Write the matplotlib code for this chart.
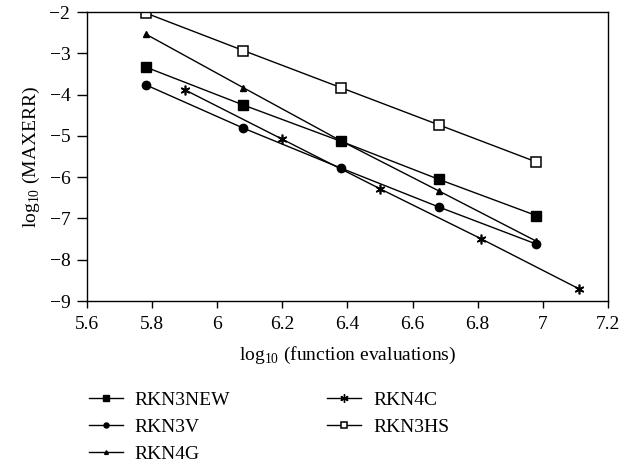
import matplotlib
matplotlib.use("Agg")
import matplotlib.pyplot as plt

plt.rcParams['font.family'] = ['Liberation Serif', 'DejaVu Serif']
plt.rcParams['mathtext.fontset'] = 'custom'
plt.rcParams['mathtext.rm'] = 'Liberation Serif'

# series data
x_a = [5.78, 6.08, 6.38, 6.68, 6.98]
x_c = [5.90, 6.20, 6.50, 6.81, 7.11]
rkn3new = [-3.33, -4.25, -5.13, -6.05, -6.93]
rkn3v = [-3.76, -4.81, -5.78, -6.72, -7.62]
rkn4g = [-2.53, -3.83, -5.12, -6.33, -7.55]
rkn4c = [-3.88, -5.08, -6.28, -7.49, -8.70]
rkn3hs = [-2.02, -2.93, -3.83, -4.73, -5.63]

xticks = [5.6, 5.8, 6.0, 6.2, 6.4, 6.6, 6.8, 7.0, 7.2]
xticklabels = ['5.6', '5.8', '6', '6.2', '6.4', '6.6', '6.8', '7', '7.2']
yticks = [-9, -8, -7, -6, -5, -4, -3, -2]

fig = plt.figure(figsize=(6.21, 4.66), dpi=100)
ax = fig.add_axes([0.14, 0.354, 0.839, 0.62])

lw = 1.0
ax.plot(x_a, rkn3new, color='black', lw=lw, marker='s', ms=6.5, label='RKN3NEW')
ax.plot(x_a, rkn3v, color='black', lw=lw, marker='o', ms=6, label='RKN3V')
ax.plot(x_a, rkn4g, color='black', lw=lw, marker='^', ms=4.5, label='RKN4G')
ax.plot(x_c, rkn4c, color='black', lw=lw, marker=(6, 2, 0), ms=7, mew=1.2, label='RKN4C')
ax.plot(x_a, rkn3hs, color='black', lw=lw, marker='s', ms=7, mfc='white', mew=1.1, label='RKN3HS')

ax.set_xlim(5.6, 7.2)
ax.set_ylim(-9, -2)
ax.set_xticks(xticks)
ax.set_xticklabels(xticklabels)
ax.set_yticks(yticks)
ax.set_yticklabels(['\u2212%d' % abs(v) for v in yticks])
ax.tick_params(labelsize=14, direction='out', width=1, colors='black')
ax.tick_params(axis='x', length=5, pad=6)
ax.tick_params(axis='y', length=7, pad=5)
for s in ax.spines.values():
    s.set_linewidth(1)

ax.set_xlabel('log$_{10}$ (function evaluations)', fontsize=14, labelpad=8)
ax.set_ylabel('log$_{10}$ (MAXERR)', fontsize=14, labelpad=5)

leg = fig.legend(loc='upper left', bbox_to_anchor=(0.143, 0.161), ncol=2, frameon=False,
                 fontsize=14, handlelength=1.75, handletextpad=0.6, columnspacing=5.0,
                 labelspacing=0.49, markerscale=0.6, borderaxespad=0, borderpad=0)
# asterisk looks larger in the legend
leg.legend_handles[3].set_markersize(6)
leg.legend_handles[3].set_markeredgewidth(1.0)

fig.savefig('out.png', dpi=100)
